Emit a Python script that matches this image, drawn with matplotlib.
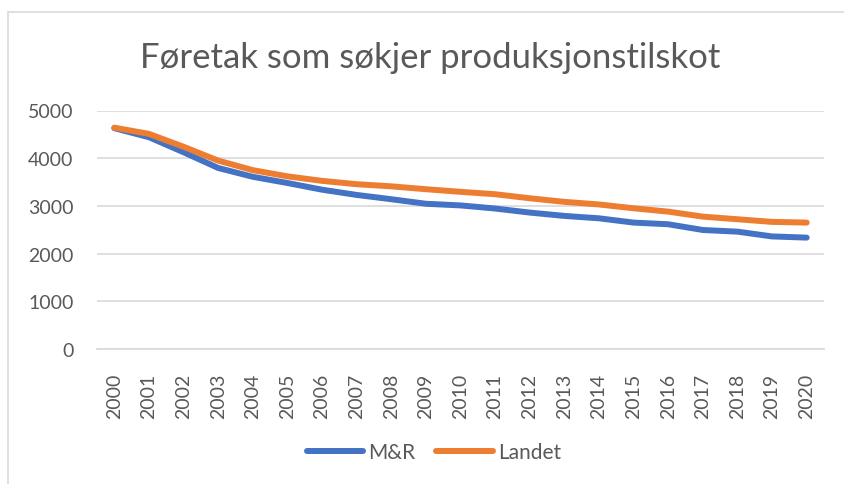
import numpy as np
import matplotlib.pyplot as plt
from matplotlib.patches import Rectangle

plt.rcParams['font.family'] = ['Lato', 'DejaVu Sans']

years = [str(y) for y in range(2000, 2021)]
mr = [4630, 4440, 4125, 3795, 3610, 3480, 3340, 3230, 3140, 3045, 3010,
      2945, 2860, 2790, 2740, 2650, 2615, 2495, 2460, 2360, 2335]
landet = [4640, 4510, 4240, 3950, 3750, 3620, 3525, 3455, 3410, 3350, 3295,
          3245, 3160, 3085, 3030, 2950, 2880, 2775, 2720, 2665, 2650]

grey = '#595959'
gridc = '#d9d9d9'

fig = plt.figure(figsize=(8.44, 4.85), dpi=100)
ax = fig.add_axes([97 / 844, 1 - 350 / 485, (824 - 97) / 844, (350 - 111.5) / 485])

# kant rundt diagrammet
fig.patches.append(Rectangle((8 / 844, -0.1), 1.2, 1 - 12.5 / 485 + 0.1,
                             transform=fig.transFigure, fill=False,
                             edgecolor=gridc, linewidth=1.2))

x = np.arange(len(years))
ax.plot(x, mr, color='#4472C4', linewidth=4.3, solid_capstyle='round', label='M&R')
ax.plot(x, landet, color='#ED7D31', linewidth=4.3, solid_capstyle='round', label='Landet')

ax.set_xlim(-0.5, len(years) - 0.5)
ax.set_ylim(0, 5000)
ax.set_yticks(range(0, 5001, 1000))
ax.set_xticks(x)
ax.set_xticklabels(years, rotation=90)
ax.tick_params(length=0, labelsize=14, labelcolor=grey)
ax.tick_params(axis='y', pad=17)
ax.tick_params(axis='x', pad=17)
ax.grid(axis='y', color=gridc, linewidth=1.2)
ax.set_axisbelow(True)
for s in ['top', 'right', 'left']:
    ax.spines[s].set_visible(False)
ax.spines['bottom'].set_color(gridc)
ax.spines['bottom'].set_linewidth(1.2)

fig.text(430 / 844, 1 - 58 / 485, 'Føretak som søkjer produksjonstilskot',
         ha='center', va='center', fontsize=25, color=grey)

fig.legend(loc='center', bbox_to_anchor=(434 / 844, 1 - 453 / 485), ncol=2,
           frameon=False, fontsize=15, labelcolor=grey, handlelength=2.7,
           handletextpad=0.25, columnspacing=1.0)

fig.savefig('out.png', dpi=100)
